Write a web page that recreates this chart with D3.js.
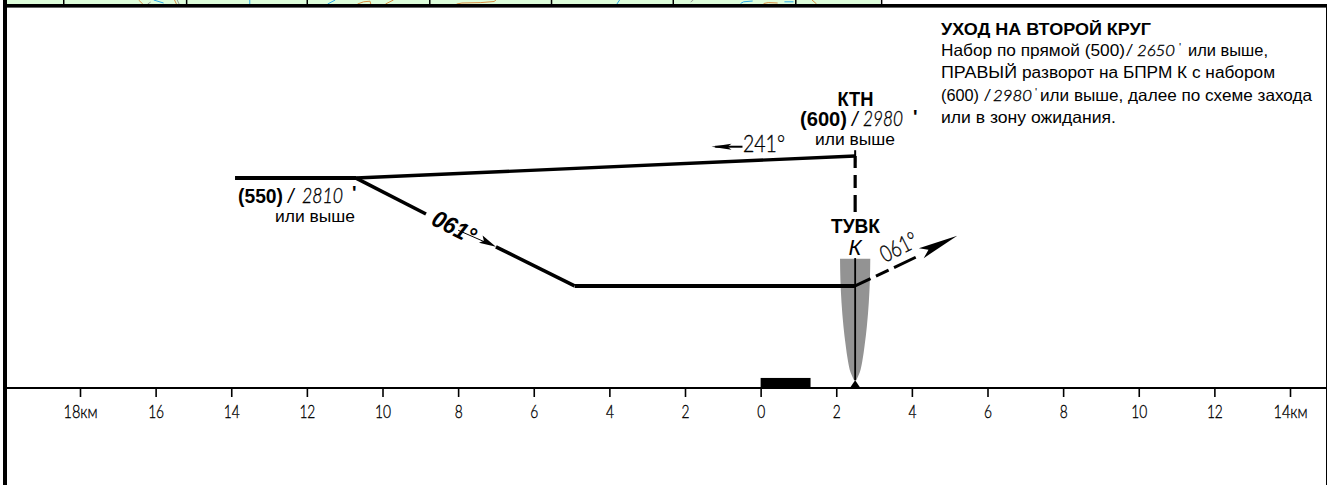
<!DOCTYPE html>
<html>
<head>
<meta charset="utf-8">
<script src="https://cdn.jsdelivr.net/npm/d3@7"></script>
<style>
    html, body { margin: 0; padding: 0; background: #fff; }
    svg { display: block; }
    .lbl { font-family: "Liberation Sans", sans-serif; fill: #000; }
    .thin { font-family: "Lato", sans-serif; font-weight: 300; fill: #000; stroke: #000; stroke-width: 0.35; }
    .din { font-family: "Liberation Sans Narrow", "Liberation Sans", sans-serif; fill: #000; }
</style>
</head>
<body>
<div id="chart"></div>
<script>
// distance axis, km from the threshold (negative = before it)
const tickValues = [-18, -16, -14, -12, -10, -8, -6, -4, -2, 0, 2, 4, 6, 8, 10, 12, 14];
const tickLabels = ["18км", "16", "14", "12", "10", "8", "6", "4", "2", "0", "2", "4", "6", "8", "10", "12", "14км"];

// profile in [km, height m]
const outboundLeg = [[-13.9, 543], [-10.7, 543], [2.5, 600]];
const climbLegA = [[-10.7, 543], [-8.85, 450]];
const climbLegB = [[-7.0, 365], [-4.92, 264]];
const levelLeg = [[-4.92, 264], [2.5, 264]];
const dashedClimb = [[2.5, 264], [4.25, 345]];
const dashedDrop = [[2.5, 600], [2.5, 455]];
const fixTick = [[2.5, 615], [2.5, 583]];
const beamLine = [[2.5, 336], [2.5, 20]];

// approach beam half width in km by height
const beamHeights = [334, 280, 220, 160, 110, 70, 40, 20];
const beamHalfWidths = [0.4, 0.39, 0.36, 0.31, 0.25, 0.19, 0.12, 0.03];

const runway = { from: 0, to: 1.32, height: 26 };
const beacon = { km: 2.5, height: 20, halfWidth: 0.14 };

// dividers and map fragments of the plan view, cut off by the frame
const stripDividers = [-18.43, -15.18, -11.99, -8.75, -5.53, -2.31, 0.93, 3.2];
const mapColor = { blue: "#28a9e8", orange: "#d98a3f", gray: "#9a9a9a" };
const mapFragments = [
    { c: "orange", p: [[-16.45, 0], [-16.34, 4]] },
    { c: "gray", p: [[-16.21, 4], [-16.13, 2]] },
    { c: "blue", p: [[-16.05, 0], [-15.79, 3]] },
    { c: "orange", p: [[-15.5, 0], [-15.45, 4]] },
    { c: "gray", p: [[-15.43, 0], [-15.38, 4]] },
    { c: "blue", p: [[-13.51, 0], [-13.51, 4]] },
    { c: "blue", p: [[-11.25, 0], [-11.45, 4]] },
    { c: "orange", p: [[-10.66, 4], [-10.5, 1.8], [-10.33, 1.2], [-10.31, 4]] },
    { c: "orange", p: [[-9.92, 4], [-9.71, 0]] },
    { c: "orange", p: [[-8.04, 4], [-7.9, 3], [-7.4, 2.6], [-7.05, 1.5], [-7.0, 0]] },
    { c: "blue", p: [[-3.73, 0], [-3.8, 4]] },
    { c: "gray", p: [[-1.85, 2], [-1.78, 0]] },
    { c: "blue", p: [[-0.53, 3.5], [-0.45, 1.8], [-0.21, 1]] },
    { c: "orange", p: [[0.08, 3.5], [0.2, 2.6], [0.45, 3]] },
    { c: "blue", p: [[0.63, 1.8], [0.87, 1.8]] },
    { c: "orange", p: [[1.36, 0], [1.48, 4]] }
];

const width = 1327;
const height = 485;

const x = d3.scaleLinear().domain([-18, 14]).range([80, 1290]);
const y = d3.scaleLinear().domain([0, 600]).range([388, 156]);
const yStrip = d3.scaleLinear().domain([0, 4]).range([0, 4]);
const line = d3.line().x(d => x(d[0])).y(d => y(d[1]));

const svg = d3.select("#chart").append("svg").attr("width", width).attr("height", height);

// plan view strip at the top
svg.append("rect").attr("x", 4).attr("y", 0).attr("width", 876).attr("height", 5).attr("fill", "#defedb");
mapFragments.forEach(f => {
    svg.append("path")
        .attr("d", d3.line().x(d => x(d[0])).y(d => yStrip(d[1]))(f.p))
        .attr("fill", "none")
        .attr("stroke", mapColor[f.c])
        .attr("stroke-width", 1);
});
svg.selectAll(".divider").data(stripDividers).enter().append("line")
    .attr("class", "divider")
    .attr("x1", d => x(d)).attr("x2", d => x(d))
    .attr("y1", 0).attr("y2", 5)
    .attr("stroke", "#000").attr("stroke-width", 1.5);

// frame
svg.append("rect").attr("x", 3).attr("y", 4).attr("width", width).attr("height", 3.6).attr("fill", "#000");
svg.append("rect").attr("x", 3).attr("y", 0).attr("width", 4).attr("height", height).attr("fill", "#000");
svg.append("rect").attr("x", 1326).attr("y", 4).attr("width", 1).attr("height", height).attr("fill", "#000");

// approach beam
const beamArea = d3.area()
    .x0((d, i) => x(beacon.km - beamHalfWidths[i]))
    .x1((d, i) => x(beacon.km + beamHalfWidths[i]))
    .y(d => y(d))
    .curve(d3.curveMonotoneY);
svg.append("path").attr("d", beamArea(beamHeights)).attr("fill", "#939393");

function stroke(points, w, dash) {
    const p = svg.append("path")
        .attr("d", line(points))
        .attr("fill", "none")
        .attr("stroke", "#000")
        .attr("stroke-width", w);
    if (dash) p.attr("stroke-dasharray", dash);
    return p;
}

stroke(beamLine, 1.8);
stroke(outboundLeg.slice(0, 2), 4);
stroke(outboundLeg.slice(1), 3.4);
stroke(climbLegA, 3.6);
stroke(climbLegB, 3.6);
stroke(levelLeg, 4);
stroke(fixTick, 2);
stroke(dashedDrop, 3.2, "12 7 13 7 18");
stroke(dashedClimb, 3, "17 6 14 6 24");

// arrowheads
function arrow(tipKm, tipH, backPx, halfPx, angle) {
    const tx = x(tipKm), ty = y(tipH);
    svg.append("path")
        .attr("transform", `translate(${tx},${ty}) rotate(${angle})`)
        .attr("d", `M0,0L${-backPx},${-halfPx}L${-backPx * 0.8},0L${-backPx},${halfPx}Z`)
        .attr("fill", "#000");
}
arrow(5.2, 394, 40, 5.5, -26);
arrow(-7.0, 365, 17, 4, 27);
stroke([[-8.0, 408], [-7.3, 378]], 1);
arrow(-1.3, 624, 20, 3, 180);
stroke([[-1.2, 624], [-0.48, 624]], 2);

// runway and beacon
svg.append("rect")
    .attr("x", x(runway.from)).attr("y", y(runway.height))
    .attr("width", x(runway.to) - x(runway.from))
    .attr("height", y(0) - y(runway.height));
svg.append("path")
    .attr("d", d3.line().x(d => x(d[0])).y(d => y(d[1]))([
        [beacon.km - beacon.halfWidth, 0],
        [beacon.km + beacon.halfWidth, 0],
        [beacon.km, beacon.height]
    ]));

// distance axis
const axis = svg.append("g")
    .attr("transform", `translate(0,${y(0)})`)
    .call(d3.axisBottom(x).tickValues(tickValues).tickSize(9).tickFormat((d, i) => tickLabels[i]));
axis.select(".domain").remove();
axis.selectAll(".tick line").attr("stroke", "#000").attr("stroke-width", 1.6);
axis.selectAll(".tick text")
    .attr("class", "thin")
    .attr("y", 30).attr("dy", 0)
    .style("font-size", "18px")
    .attr("textLength", (d, i) => tickLabels[i].length > 2 ? 34 : tickLabels[i].length * 8)
    .attr("lengthAdjust", "spacingAndGlyphs");
svg.append("line").attr("x1", 5).attr("x2", width).attr("y1", y(0)).attr("y2", y(0))
    .attr("stroke", "#000").attr("stroke-width", 2);

// on-chart labels
function label(px, py, txt, cls, size, opts) {
    opts = opts || {};
    const t = svg.append("text").attr("class", cls)
        .attr("x", px).attr("y", py)
        .attr("font-size", size)
        .attr("text-anchor", opts.anchor || "start")
        .text(txt);
    if (opts.bold) t.attr("font-weight", 700);
    if (opts.italic) t.attr("font-style", "italic");
    if (opts.rotate) t.attr("transform", `rotate(${opts.rotate},${px},${py})`);
    if (opts.len) t.attr("textLength", opts.len).attr("lengthAdjust", "spacingAndGlyphs");
    return t;
}
label(855.5, 105.5, "КТН", "lbl", 20.5, { anchor: "middle", bold: true, len: 36 });
label(800, 126, "(600)", "lbl", 20.5, { bold: true, len: 47 });
label(852, 126, "/", "lbl", 20, { italic: true });
label(863, 126, "2980", "thin", 21, { italic: true, len: 40 });
label(913, 123, "'", "lbl", 19, { bold: true });
label(855, 145, "или выше", "lbl", 16, { anchor: "middle", len: 80 });
label(743, 152, "241°", "thin", 24, { len: 42 });
label(855.5, 233, "ТУВК", "lbl", 20.5, { anchor: "middle", bold: true, len: 49 });
label(855, 255, "К", "lbl", 22, { anchor: "middle", italic: true });
label(885, 263, "061°", "thin", 23, { rotate: -27, len: 39 });

label(238, 203, "(550)", "lbl", 20.5, { bold: true, len: 45 });
label(288, 203, "/", "lbl", 20, { italic: true });
label(302, 203, "2810", "thin", 21, { italic: true, len: 41 });
label(352, 199, "'", "lbl", 19, { bold: true });
label(315, 222, "или выше", "lbl", 16, { anchor: "middle", len: 80 });
label(430, 224, "061°", "lbl", 24, { bold: true, italic: true, rotate: 27, len: 46 });

// missed approach note
label(941, 35, "УХОД НА ВТОРОЙ КРУГ", "din", 17, { bold: true, len: 210 });
label(941, 55.5, "Набор по прямой (500)", "din", 16.5, { len: 184 });
label(1127, 55.5, "/", "din", 16, { italic: true });
label(1137, 55.5, "2650", "thin", 15.5, { italic: true, len: 38 });
label(1179, 51, "'", "din", 11);
label(1188, 55.5, "или выше,", "din", 16.5, { len: 80 });
label(941, 78, "ПРАВЫЙ", "din", 16.5, { len: 76 });
label(1022, 78, "разворот на БПРМ К с набором", "din", 16, { len: 253 });
label(941, 101, "(600)", "din", 16.5, { len: 38 });
label(985, 101, "/", "din", 16, { italic: true });
label(993, 101, "2980", "thin", 15.5, { italic: true, len: 39 });
label(1035, 96, "'", "din", 11);
label(1040, 101, "или выше, далее по схеме захода", "din", 16.5, { len: 272 });
label(941, 123, "или в зону ожидания.", "din", 16.5, { len: 175 });
</script>
</body>
</html>
